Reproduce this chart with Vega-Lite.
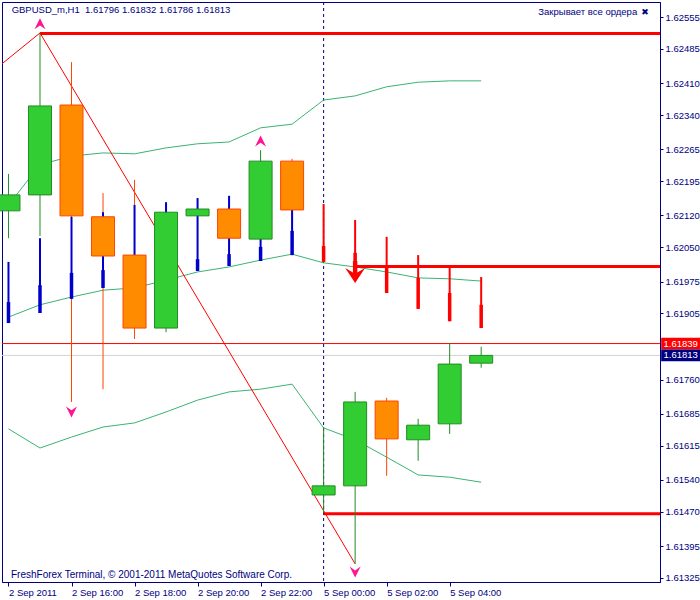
{
  "$schema": "https://vega.github.io/schema/vega-lite/v6.json",
  "width": 658,
  "height": 580,
  "autosize": "none",
  "padding": {"left": 2, "top": 2, "right": 40, "bottom": 18},
  "background": "white",
  "config": {
    "view": {"stroke": "#000080", "strokeWidth": 1},
    "font": "Liberation Sans",
    "axis": {"domainColor": "#000080", "tickColor": "#000080", "labelColor": "#000080", "grid": false, "labelFont": "Liberation Sans", "labelFontSize": 9.5, "labelOverlap": false}
  },
  "datasets": {
    "candles": [
      {"idx": 0, "open": 1.62130, "high": 1.62211, "low": 1.62070, "close": 1.62165},
      {"idx": 1, "open": 1.62165, "high": 1.62520, "low": 1.62075, "close": 1.62360},
      {"idx": 2, "open": 1.62362, "high": 1.62456, "low": 1.61711, "close": 1.62119},
      {"idx": 3, "open": 1.62117, "high": 1.62169, "low": 1.61739, "close": 1.62031},
      {"idx": 4, "open": 1.62033, "high": 1.62198, "low": 1.61849, "close": 1.61873},
      {"idx": 5, "open": 1.61873, "high": 1.62147, "low": 1.61864, "close": 1.62127},
      {"idx": 6, "open": 1.62119, "high": 1.62158, "low": 1.61998, "close": 1.62134},
      {"idx": 7, "open": 1.62134, "high": 1.62160, "low": 1.62009, "close": 1.62070},
      {"idx": 8, "open": 1.62068, "high": 1.62263, "low": 1.62020, "close": 1.62239},
      {"idx": 9, "open": 1.62239, "high": 1.62244, "low": 1.62033, "close": 1.62132},
      {"idx": 10, "open": 1.61507, "high": 1.61656, "low": 1.61468, "close": 1.61527},
      {"idx": 11, "open": 1.61527, "high": 1.61733, "low": 1.61356, "close": 1.61711},
      {"idx": 12, "open": 1.61713, "high": 1.61720, "low": 1.61549, "close": 1.61630},
      {"idx": 13, "open": 1.61628, "high": 1.61674, "low": 1.61582, "close": 1.61660},
      {"idx": 14, "open": 1.61663, "high": 1.61840, "low": 1.61641, "close": 1.61794},
      {"idx": 15, "open": 1.61796, "high": 1.61832, "low": 1.61786, "close": 1.61813}
    ],
    "bars": [
      {"idx": 0, "top": 1.62018, "mid": 1.61930, "bottom": 1.61884, "dir": "up"},
      {"idx": 1, "top": 1.62070, "mid": 1.61967, "bottom": 1.61906, "dir": "up"},
      {"idx": 2, "top": 1.62117, "mid": 1.61994, "bottom": 1.61937, "dir": "up"},
      {"idx": 3, "top": 1.62127, "mid": 1.62000, "bottom": 1.61961, "dir": "up"},
      {"idx": 4, "top": 1.62143, "mid": 1.61978, "bottom": 1.61935, "dir": "up"},
      {"idx": 5, "top": 1.62149, "mid": 1.62044, "bottom": 1.62000, "dir": "up"},
      {"idx": 6, "top": 1.62158, "mid": 1.62024, "bottom": 1.61998, "dir": "up"},
      {"idx": 7, "top": 1.62163, "mid": 1.62035, "bottom": 1.62009, "dir": "up"},
      {"idx": 8, "top": 1.62154, "mid": 1.62051, "bottom": 1.62020, "dir": "up"},
      {"idx": 9, "top": 1.62143, "mid": 1.62086, "bottom": 1.62033, "dir": "up"},
      {"idx": 10, "top": 1.62145, "mid": 1.62053, "bottom": 1.62018, "dir": "down"},
      {"idx": 11, "top": 1.62110, "mid": 1.62038, "bottom": 1.62000, "dir": "down"},
      {"idx": 12, "top": 1.62073, "mid": 1.62011, "bottom": 1.61950, "dir": "down"},
      {"idx": 13, "top": 1.62033, "mid": 1.61983, "bottom": 1.61915, "dir": "down"},
      {"idx": 14, "top": 1.62007, "mid": 1.61950, "bottom": 1.61888, "dir": "down"},
      {"idx": 15, "top": 1.61985, "mid": 1.61924, "bottom": 1.61873, "dir": "down"}
    ],
    "bands": [
      {"idx": 0, "upper": 1.62143, "middle": 1.61897, "lower": 1.61652},
      {"idx": 1, "upper": 1.62231, "middle": 1.61924, "lower": 1.61610},
      {"idx": 2, "upper": 1.62250, "middle": 1.61941, "lower": 1.61634},
      {"idx": 3, "upper": 1.62257, "middle": 1.61956, "lower": 1.61656},
      {"idx": 4, "upper": 1.62255, "middle": 1.61961, "lower": 1.61665},
      {"idx": 5, "upper": 1.62268, "middle": 1.61978, "lower": 1.61689},
      {"idx": 6, "upper": 1.62277, "middle": 1.61996, "lower": 1.61715},
      {"idx": 7, "upper": 1.62281, "middle": 1.62007, "lower": 1.61733},
      {"idx": 8, "upper": 1.62312, "middle": 1.62022, "lower": 1.61739},
      {"idx": 9, "upper": 1.62320, "middle": 1.62035, "lower": 1.61750},
      {"idx": 10, "upper": 1.62373, "middle": 1.62016, "lower": 1.61654},
      {"idx": 11, "upper": 1.62382, "middle": 1.62007, "lower": 1.61628},
      {"idx": 12, "upper": 1.62402, "middle": 1.61996, "lower": 1.61590},
      {"idx": 13, "upper": 1.62412, "middle": 1.61983, "lower": 1.61551},
      {"idx": 14, "upper": 1.62415, "middle": 1.61981, "lower": 1.61546},
      {"idx": 15, "upper": 1.62415, "middle": 1.61976, "lower": 1.61535}
    ],
    "zigzag": [
      {"idx": -1, "price": 1.62408},
      {"idx": 1, "price": 1.62520},
      {"idx": 11, "price": 1.61356}
    ],
    "levels": [
      {"start": 1, "end": 21, "price": 1.62519},
      {"start": 11, "end": 21, "price": 1.62008},
      {"start": 10, "end": 21, "price": 1.61466}
    ],
    "fractals": [
      {"idx": 1, "price": 1.62540, "dir": "up"},
      {"idx": 8, "price": 1.62283, "dir": "up"},
      {"idx": 2, "price": 1.61689, "dir": "down"},
      {"idx": 11, "price": 1.61338, "dir": "down"}
    ],
    "signal": [{"idx": 11, "price": 1.61996}],
    "tags": [
      {"price": 1.61839, "tag": "ask"},
      {"price": 1.61813, "tag": "bid"}
    ]
  },
  "layer": [
    {
      "data": {"name": "candles"},
      "mark": {"type": "rule", "strokeWidth": 0},
      "encoding": {
        "x": {"field": "idx", "type": "quantitative", "title": null, "scale": {"domain": [-0.046875, 20.515625], "nice": false, "zero": false},
          "axis": {"orient": "bottom", "values": [0, 2, 4, 6, 8, 10, 12, 14], "tickCount": 40, "tickSize": 4, "labelPadding": 1, "labelAlign": "left", "labelFlush": false, "labelOverlap": false, "title": null,
            "labelExpr": "['2 Sep 2011','','2 Sep 16:00','','2 Sep 18:00','','2 Sep 20:00','','2 Sep 22:00','','5 Sep 00:00','','5 Sep 02:00','','5 Sep 04:00'][datum.value]"}},
        "y": {"field": "low", "type": "quantitative", "title": null, "scale": {"domain": [1.613162, 1.625879], "nice": false, "zero": false},
          "axis": {"orient": "right", "values": [1.61325, 1.61395, 1.61470, 1.61540, 1.61615, 1.61685, 1.61760, 1.61905, 1.61975, 1.62050, 1.62120, 1.62195, 1.62265, 1.62340, 1.62410, 1.62485, 1.62555], "tickCount": 40, "format": ".5f", "tickSize": 3, "labelPadding": 2, "labelOverlap": false, "labelFlush": false, "title": null}}
      }
    },
    {
      "data": {"values": [{"price": 1.61839}]},
      "mark": {"type": "rule", "color": "#FF0000", "strokeWidth": 1},
      "encoding": {"y": {"field": "price", "type": "quantitative", "title": null}}
    },
    {
      "data": {"values": [{"price": 1.61813}]},
      "mark": {"type": "rule", "color": "#D3D3D3", "strokeWidth": 1},
      "encoding": {"y": {"field": "price", "type": "quantitative", "title": null}}
    },
    {
      "data": {"values": [{"idx": 10}]},
      "mark": {"type": "rule", "color": "#000080", "strokeWidth": 1, "strokeDash": [3, 3]},
      "encoding": {"x": {"field": "idx", "type": "quantitative", "title": null}}
    },
    {
      "data": {"name": "bands"},
      "mark": {"type": "line", "color": "#3CB371", "strokeWidth": 1},
      "encoding": {"x": {"field": "idx", "type": "quantitative", "title": null}, "y": {"field": "upper", "type": "quantitative", "title": null}}
    },
    {
      "data": {"name": "bands"},
      "mark": {"type": "line", "color": "#3CB371", "strokeWidth": 1},
      "encoding": {"x": {"field": "idx", "type": "quantitative", "title": null}, "y": {"field": "middle", "type": "quantitative", "title": null}}
    },
    {
      "data": {"name": "bands"},
      "mark": {"type": "line", "color": "#3CB371", "strokeWidth": 1},
      "encoding": {"x": {"field": "idx", "type": "quantitative", "title": null}, "y": {"field": "lower", "type": "quantitative", "title": null}}
    },
    {
      "data": {"name": "zigzag"},
      "mark": {"type": "line", "color": "#FF0000", "strokeWidth": 1, "clip": true},
      "encoding": {"x": {"field": "idx", "type": "quantitative", "title": null}, "y": {"field": "price", "type": "quantitative", "title": null}}
    },
    {
      "data": {"name": "levels"},
      "mark": {"type": "rule", "color": "#FF0000", "strokeWidth": 3, "clip": true},
      "encoding": {
        "x": {"field": "start", "type": "quantitative", "title": null},
        "x2": {"field": "end"},
        "y": {"field": "price", "type": "quantitative", "title": null}
      }
    },
    {
      "data": {"name": "candles"},
      "mark": {"type": "rule", "strokeWidth": 1},
      "encoding": {
        "x": {"field": "idx", "type": "quantitative", "title": null},
        "y": {"field": "low", "type": "quantitative", "title": null},
        "y2": {"field": "high"},
        "color": {"condition": {"test": "datum.open < datum.close", "value": "#228B22"}, "value": "#FF4500"}
      }
    },
    {
      "data": {"name": "bars"},
      "mark": {"type": "rule", "strokeWidth": 2},
      "encoding": {
        "x": {"field": "idx", "type": "quantitative", "title": null},
        "y": {"field": "top", "type": "quantitative", "title": null},
        "y2": {"field": "bottom"},
        "color": {"condition": {"test": "datum.dir == 'up'", "value": "#0000CD"}, "value": "#FF0000"}
      }
    },
    {
      "data": {"name": "bars"},
      "mark": {"type": "rule", "strokeWidth": 3.5},
      "encoding": {
        "x": {"field": "idx", "type": "quantitative", "title": null},
        "y": {"field": "mid", "type": "quantitative", "title": null},
        "y2": {"field": "bottom"},
        "color": {"condition": {"test": "datum.dir == 'up'", "value": "#0000CD"}, "value": "#FF0000"}
      }
    },
    {
      "data": {"name": "candles"},
      "mark": {"type": "bar", "size": 23, "strokeWidth": 1},
      "encoding": {
        "x": {"field": "idx", "type": "quantitative", "title": null},
        "y": {"field": "open", "type": "quantitative", "title": null},
        "y2": {"field": "close"},
        "fill": {"condition": {"test": "datum.open < datum.close", "value": "#32CD32"}, "value": "#FF8C00"},
        "stroke": {"condition": {"test": "datum.open < datum.close", "value": "#228B22"}, "value": "#FF4500"}
      }
    },
    {
      "data": {"name": "fractals"},
      "mark": {"type": "point", "filled": true, "opacity": 1, "size": 121, "color": "#FF1493"},
      "encoding": {
        "x": {"field": "idx", "type": "quantitative", "title": null},
        "y": {"field": "price", "type": "quantitative", "title": null},
        "shape": {"field": "dir", "type": "nominal", "legend": null, "scale": {"domain": ["up", "down"], "range": ["M0,-1L1,1L0,0.3L-1,1Z", "M0,1L1,-1L0,-0.3L-1,-1Z"]}}
      }
    },
    {
      "data": {"name": "signal"},
      "mark": {"type": "point", "filled": true, "opacity": 1, "size": 484, "color": "#FF0000", "shape": "M-0.2,-1L0.2,-1L0.2,0.05L0.9,-0.35L0,1L-0.9,-0.35L-0.2,0.05Z"},
      "encoding": {
        "x": {"field": "idx", "type": "quantitative", "title": null},
        "y": {"field": "price", "type": "quantitative", "title": null}
      }
    },
    {
      "data": {"name": "tags"},
      "mark": {"type": "point", "filled": true, "opacity": 1, "size": 1521, "shape": "M-1,-0.3L1,-0.3L1,0.3L-1,0.3Z"},
      "encoding": {
        "x": {"datum": 21.33, "type": "quantitative", "title": null},
        "y": {"field": "price", "type": "quantitative", "title": null},
        "color": {"condition": {"test": "datum.tag == 'ask'", "value": "#FF0000"}, "value": "#000080"}
      }
    },
    {
      "data": {"name": "tags"},
      "mark": {"type": "text", "color": "white", "fontSize": 9.5, "align": "center", "baseline": "middle"},
      "encoding": {
        "x": {"datum": 21.33, "type": "quantitative", "title": null},
        "y": {"field": "price", "type": "quantitative", "title": null},
        "text": {"field": "price", "type": "quantitative", "format": ".5f"}
      }
    },
    {
      "data": {"values": [{"label": "GBPUSD_m,H1\u00a0 1.61796 1.61832 1.61786 1.61813"}]},
      "mark": {"type": "text", "color": "#000080", "fontSize": 9.5, "align": "left", "baseline": "middle"},
      "encoding": {
        "x": {"datum": 0.1, "type": "quantitative", "title": null},
        "y": {"datum": 1.62570, "type": "quantitative", "title": null},
        "text": {"field": "label"}
      }
    },
    {
      "data": {"values": [{"label": "Закрывает все ордера"}]},
      "mark": {"type": "text", "color": "#000080", "fontSize": 9.5, "align": "right", "baseline": "middle"},
      "encoding": {
        "x": {"datum": 19.95, "type": "quantitative", "title": null},
        "y": {"datum": 1.62566, "type": "quantitative", "title": null},
        "text": {"field": "label"}
      }
    },
    {
      "data": {"values": [{"label": "✖"}]},
      "mark": {"type": "text", "color": "#000080", "fontSize": 9, "align": "center", "baseline": "middle", "font": "DejaVu Sans"},
      "encoding": {
        "x": {"datum": 20.2, "type": "quantitative", "title": null},
        "y": {"datum": 1.62566, "type": "quantitative", "title": null},
        "text": {"field": "label"}
      }
    },
    {
      "data": {"values": [{"label": "FreshForex Terminal, © 2001-2011 MetaQuotes Software Corp."}]},
      "mark": {"type": "text", "color": "#000080", "fontSize": 10, "align": "left", "baseline": "middle"},
      "encoding": {
        "x": {"datum": 0.08, "type": "quantitative", "title": null},
        "y": {"datum": 1.61332, "type": "quantitative", "title": null},
        "text": {"field": "label"}
      }
    }
  ]
}
